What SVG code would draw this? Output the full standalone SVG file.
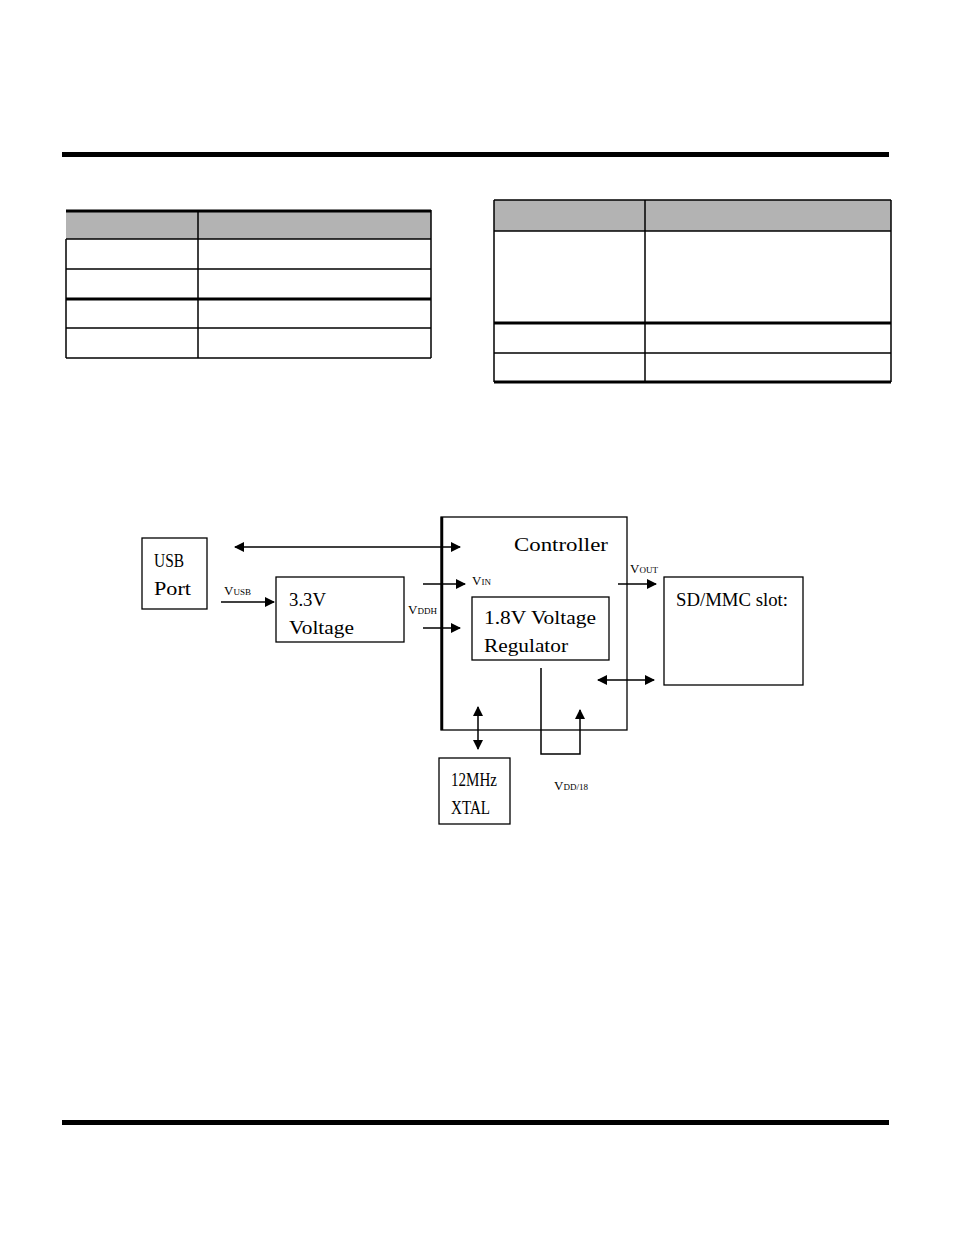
<svg xmlns="http://www.w3.org/2000/svg" width="954" height="1235" viewBox="0 0 954 1235">
<style>
.b{fill:#fff;stroke:#000;stroke-width:1.3}
.t{font-family:"Liberation Serif",serif;font-size:18px;fill:#000}
.v{font-family:"Liberation Serif",serif;font-size:13px;fill:#000}
.s{font-size:9px}
.c{stroke:#000;stroke-width:1.5;fill:none}
.g{fill:#b3b3b3}
.k{stroke:#000;stroke-width:1.5}
.K{stroke:#000;stroke-width:3}
</style>
<defs>
<marker id="a" markerWidth="10" markerHeight="10" refX="9" refY="5" orient="auto-start-reverse" markerUnits="userSpaceOnUse"><path d="M0,0 L10,5 L0,10 z" fill="#000"/></marker>
</defs>
<rect x="62" y="152" width="827" height="5" fill="#000"/>
<rect x="62" y="1120" width="827" height="5" fill="#000"/>
<g id="table1">
<rect class="g" x="66" y="210" width="365" height="29"/>
<line class="K" x1="66" y1="211" x2="431" y2="211"/>
<line class="k" x1="66" y1="239" x2="431" y2="239"/>
<line class="k" x1="66" y1="269" x2="431" y2="269"/>
<line class="K" x1="66" y1="299" x2="431" y2="299"/>
<line class="k" x1="66" y1="328" x2="431" y2="328"/>
<line class="k" x1="66" y1="358" x2="431" y2="358"/>
<line class="k" x1="66" y1="239" x2="66" y2="358"/>
<line class="k" x1="198" y1="210" x2="198" y2="358"/>
<line class="k" x1="431" y1="210" x2="431" y2="358"/>
</g>
<g id="table2">
<rect class="g" x="494" y="200" width="397" height="31"/>
<line class="k" x1="494" y1="200" x2="891" y2="200"/>
<line class="k" x1="494" y1="231" x2="891" y2="231"/>
<line class="K" x1="494" y1="323" x2="891" y2="323"/>
<line class="k" x1="494" y1="353" x2="891" y2="353"/>
<line class="K" x1="494" y1="382" x2="891" y2="382"/>
<line class="k" x1="494" y1="200" x2="494" y2="382"/>
<line class="k" x1="645" y1="200" x2="645" y2="382"/>
<line class="k" x1="891" y1="200" x2="891" y2="382"/>
</g>
<g id="usb"><rect class="b" x="142" y="538" width="65" height="71" stroke-width="2"/><text class="t" x="154" y="567" textLength="30" lengthAdjust="spacingAndGlyphs">USB</text><text class="t" x="154" y="595" textLength="37" lengthAdjust="spacingAndGlyphs">Port</text></g>
<g id="v33"><rect class="b" x="276" y="577" width="128" height="65"/><text class="t" x="289" y="606" textLength="37" lengthAdjust="spacingAndGlyphs">3.3V</text><text class="t" x="289" y="634" textLength="65" lengthAdjust="spacingAndGlyphs">Voltage</text></g>
<g id="controller"><rect class="b" x="441" y="517" width="186" height="213"/><line stroke="#000" stroke-width="2.5" x1="442" y1="517" x2="442" y2="730"/><text class="t" x="514" y="551" textLength="94" lengthAdjust="spacingAndGlyphs">Controller</text></g>
<g id="regulator"><rect class="b" x="472" y="597" width="137" height="63"/><text class="t" x="484" y="624" textLength="112" lengthAdjust="spacingAndGlyphs">1.8V Voltage</text><text class="t" x="484" y="652" textLength="84" lengthAdjust="spacingAndGlyphs">Regulator</text></g>
<g id="sd"><rect class="b" x="664" y="577" width="139" height="108"/><text class="t" x="676" y="606" textLength="112" lengthAdjust="spacingAndGlyphs">SD/MMC slot:</text></g>
<g id="xtal"><rect class="b" x="439" y="758" width="71" height="66"/><text class="t" x="451" y="786" textLength="46" lengthAdjust="spacingAndGlyphs">12MHz</text><text class="t" x="451" y="814" textLength="39" lengthAdjust="spacingAndGlyphs">XTAL</text></g>
<g id="connectors">
<line class="c" x1="235" y1="547" x2="460" y2="547" marker-start="url(#a)" marker-end="url(#a)"/>
<line class="c" x1="221" y1="602" x2="274" y2="602" marker-end="url(#a)"/>
<line class="c" x1="423" y1="584" x2="465" y2="584" marker-end="url(#a)"/>
<line class="c" x1="423" y1="628" x2="460" y2="628" stroke-width="2" marker-end="url(#a)"/>
<line class="c" x1="618" y1="584" x2="656" y2="584" marker-end="url(#a)"/>
<line class="c" x1="598" y1="680" x2="654" y2="680" marker-start="url(#a)" marker-end="url(#a)"/>
<line class="c" x1="478" y1="707" x2="478" y2="749" marker-start="url(#a)" marker-end="url(#a)"/>
<polyline class="c" points="541,668 541,754 580,754 580,710" marker-end="url(#a)"/>
</g>
<text class="v" x="224" y="595">V<tspan class="s">USB</tspan></text>
<text class="v" x="472" y="585">V<tspan class="s">IN</tspan></text>
<text class="v" x="408" y="614">V<tspan class="s">DDH</tspan></text>
<text class="v" x="630" y="573">V<tspan class="s">OUT</tspan></text>
<text class="v" x="554" y="790">V<tspan class="s">DD/18</tspan></text>
</svg>
